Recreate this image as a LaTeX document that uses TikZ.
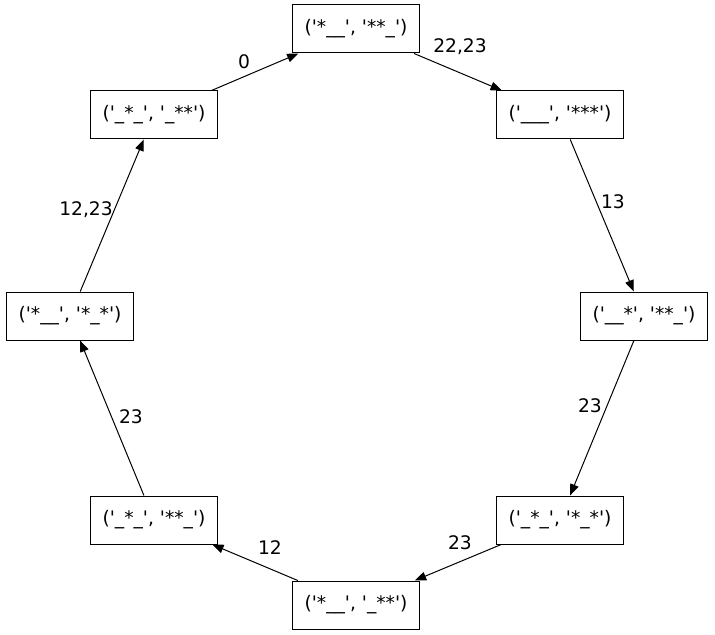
\documentclass[tikz,border=0pt]{standalone}
\usepackage{fontspec}
\setmainfont{DejaVu Sans}
\usetikzlibrary{arrows.meta}

\newcommand{\pair}[2]{(\textquotesingle#1\textquotesingle, \textquotesingle#2\textquotesingle)}

\tikzset{
  state/.style={draw, line width=0.75pt, minimum width=95pt, minimum height=36pt, inner sep=2pt, font=\fontsize{14}{16}\selectfont},
  lbl/.style={inner sep=1pt, font=\fontsize{14}{16}\selectfont},
  trans/.style={-{Triangle[length=8.5pt,width=6.5pt]}, line width=0.75pt}
}

\begin{document}
\begin{tikzpicture}[x=0.75pt, y=-0.75pt]
\useasboundingbox (0,0) rectangle (715,635);

% States on the ring
\foreach \n/\x/\y/\a/\b in {
    t/356/29/{*\_\_}/{**\_},
    tl/154/115/{\_*\_}/{\_**},
    tr/560/115/{\_\_\_}/{***},
    l/70/316/{*\_\_}/{*\_*},
    r/644/316/{\_\_*}/{**\_},
    bl/154/520/{\_*\_}/{**\_},
    br/560/520/{\_*\_}/{*\_*},
    b/356/605/{*\_\_}/{\_**}} {
    \node[state] (\n) at (\x,\y) {\pair{\a}{\b}};
}

% Transitions
\draw[trans] (tl) -- (t);
\draw[trans] (t) -- (tr);
\draw[trans] (tr) -- (r);
\draw[trans] (r) -- (br);
\draw[trans] (br) -- (b);
\draw[trans] (b) -- (bl);
\draw[trans] (bl) -- (l);
\draw[trans] (l) -- (tl);

% Labels
\node[lbl] (e1) at (244,62) {0};
\node[lbl] (e2) at (460,47) {22,23};
\node[lbl] (e3) at (613,202) {13};
\node[lbl] (e4) at (590,406) {23};
\node[lbl] (e5) at (460,543) {23};
\node[lbl] (e6) at (270,548) {12};
\node[lbl] (e7) at (131,417) {23};
\node[lbl] (e8) at (86,210) {12,23};
\end{tikzpicture}
\end{document}
